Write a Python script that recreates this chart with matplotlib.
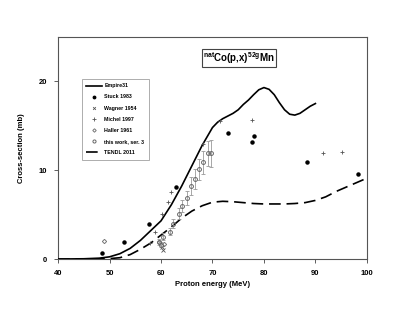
import matplotlib
matplotlib.use("Agg")
import matplotlib.pyplot as plt
import numpy as np

plt.rcParams['font.family'] = ['Liberation Sans', 'DejaVu Sans']
plt.rcParams['font.weight'] = 'bold'
plt.rcParams['mathtext.fontset'] = 'custom'
plt.rcParams['mathtext.rm'] = 'Liberation Sans:bold'
plt.rcParams['mathtext.it'] = 'Liberation Sans:bold'
plt.rcParams['mathtext.bf'] = 'Liberation Sans:bold'

# Empire31 model
empire_e = [40, 45, 48, 50, 52, 54, 56, 58, 60, 62, 64, 66, 68, 70, 71, 72, 73, 74, 75, 76, 77, 78, 79,
            80, 81, 82, 83, 84, 85, 86, 87, 88, 89, 90]
empire_xs = [0, 0.03, 0.1, 0.25, 0.6, 1.2, 2.1, 3.2, 4.3, 6.1, 8.2, 10.5, 12.8, 14.8, 15.4, 15.8, 16.1,
             16.4, 16.8, 17.4, 17.9, 18.5, 19.05, 19.3, 19.1, 18.5, 17.6, 16.8, 16.3, 16.2, 16.4, 16.8,
             17.2, 17.5]

# TENDL 2011
tendl_e = [40, 46, 50, 52, 54, 56, 58, 60, 62, 64, 66, 68, 70, 72, 74, 76, 78, 80, 82, 84, 86, 88, 90,
           92, 94, 96, 98, 100]
tendl_xs = [0, 0, 0.05, 0.15, 0.5, 1.1, 1.8, 2.7, 3.6, 4.6, 5.4, 6.0, 6.4, 6.5, 6.45, 6.35, 6.25, 6.2,
            6.2, 6.2, 6.25, 6.35, 6.6, 7.0, 7.6, 8.1, 8.6, 9.1]

# experimental data
stuck_e = [48.5, 52.8, 57.7, 63.0, 73.0, 77.7, 78.1, 88.4, 98.3]
stuck_xs = [0.7, 1.9, 4.0, 8.1, 14.2, 13.2, 13.8, 10.9, 9.6]

wagner_e = [60.2, 60.3]
wagner_xs = [1.4, 1.0]

michel_e = [57.9, 58.8, 60.1, 61.4, 62.0, 68.2, 71.5, 77.7, 91.5, 95.1]
michel_xs = [1.8, 3.1, 5.1, 6.4, 7.6, 12.9, 15.5, 15.6, 11.9, 12.0]

haller_e = [49.0, 59.7, 60.6]
haller_xs = [2.0, 1.9, 1.7]

work_e = [59.6, 59.9, 60.4, 61.7, 62.4, 63.4, 64.1, 65.0, 65.8, 66.7, 67.4, 68.2, 69.1, 69.8]
work_xs = [1.9, 1.6, 2.5, 3.1, 4.0, 5.1, 6.0, 6.9, 8.2, 9.0, 10.1, 10.9, 11.9, 11.9]
work_err = [0.3, 0.3, 0.4, 0.4, 0.5, 0.6, 0.7, 0.8, 1.0, 1.1, 1.2, 1.3, 1.4, 1.5]

fig = plt.figure(figsize=(4.15, 3.21), dpi=100)
ax = fig.add_axes([0.140, 0.193, 0.744, 0.692])

h1, = ax.plot(empire_e, empire_xs, color='black', lw=1.2, label='Empire31', zorder=4)
h2, = ax.plot(stuck_e, stuck_xs, 'o', color='black', ms=2.2, label='Stuck 1983', zorder=5)
h3, = ax.plot(wagner_e, wagner_xs, 'x', color='#555555', ms=2.5, mew=0.6, label='Wagner 1954', zorder=5)
h4, = ax.plot(michel_e, michel_xs, '+', color='#555555', ms=3, mew=0.6, label='Michel 1997', zorder=5)
h5, = ax.plot(haller_e, haller_xs, 'D', mfc='none', mec='#777777', ms=2.2, mew=0.7, label='Haller 1961', zorder=5)
ax.errorbar(work_e, work_xs, yerr=work_err, fmt='none', ecolor='#999999', elinewidth=0.6,
            capsize=1.5, capthick=0.6, zorder=5)
h6, = ax.plot(work_e, work_xs, 'o', mfc='none', mec='#666666', ms=2.8, mew=0.7,
              label='this work, ser. 3', zorder=6)
h7, = ax.plot(tendl_e, tendl_xs, color='black', lw=1.2, dashes=(7, 3.5), label='TENDL 2011', zorder=4)

ax.set_xlim(40, 100)
ax.set_ylim(0, 25)
ax.set_xticks([40, 50, 60, 70, 80, 90, 100])
ax.set_yticks([0, 10, 20])
ax.tick_params(labelsize=5.5, length=3, width=0.6, color='#444444', pad=5)
for s in ax.spines.values():
    s.set_color('#555555')
    s.set_linewidth(0.8)

ax.set_xlabel('Proton energy (MeV)', fontsize=5.5, fontweight='bold', labelpad=3)
ax.set_ylabel('Cross-section (mb)', fontsize=5.5, fontweight='bold', labelpad=10)

ax.text(0.586, 0.905, r'$^{\rm nat}$Co(p,x)$^{\rm 52g}$Mn', transform=ax.transAxes, ha='center',
        va='center', fontsize=7, fontweight='bold',
        bbox=dict(boxstyle='square,pad=0.15', fc='white', ec='#444444', lw=0.8))

leg = ax.legend(handles=[h1, h2, h3, h4, h5, h6, h7], loc='upper left', bbox_to_anchor=(0.068, 0.824),
                fontsize=3.8, frameon=True, fancybox=False, edgecolor='#888888', handlelength=3.0,
                labelspacing=1.15, borderpad=0.9, handletextpad=0.4, markerscale=0.8)
leg.get_frame().set_linewidth(0.6)

fig.savefig('out.png', dpi=100)
